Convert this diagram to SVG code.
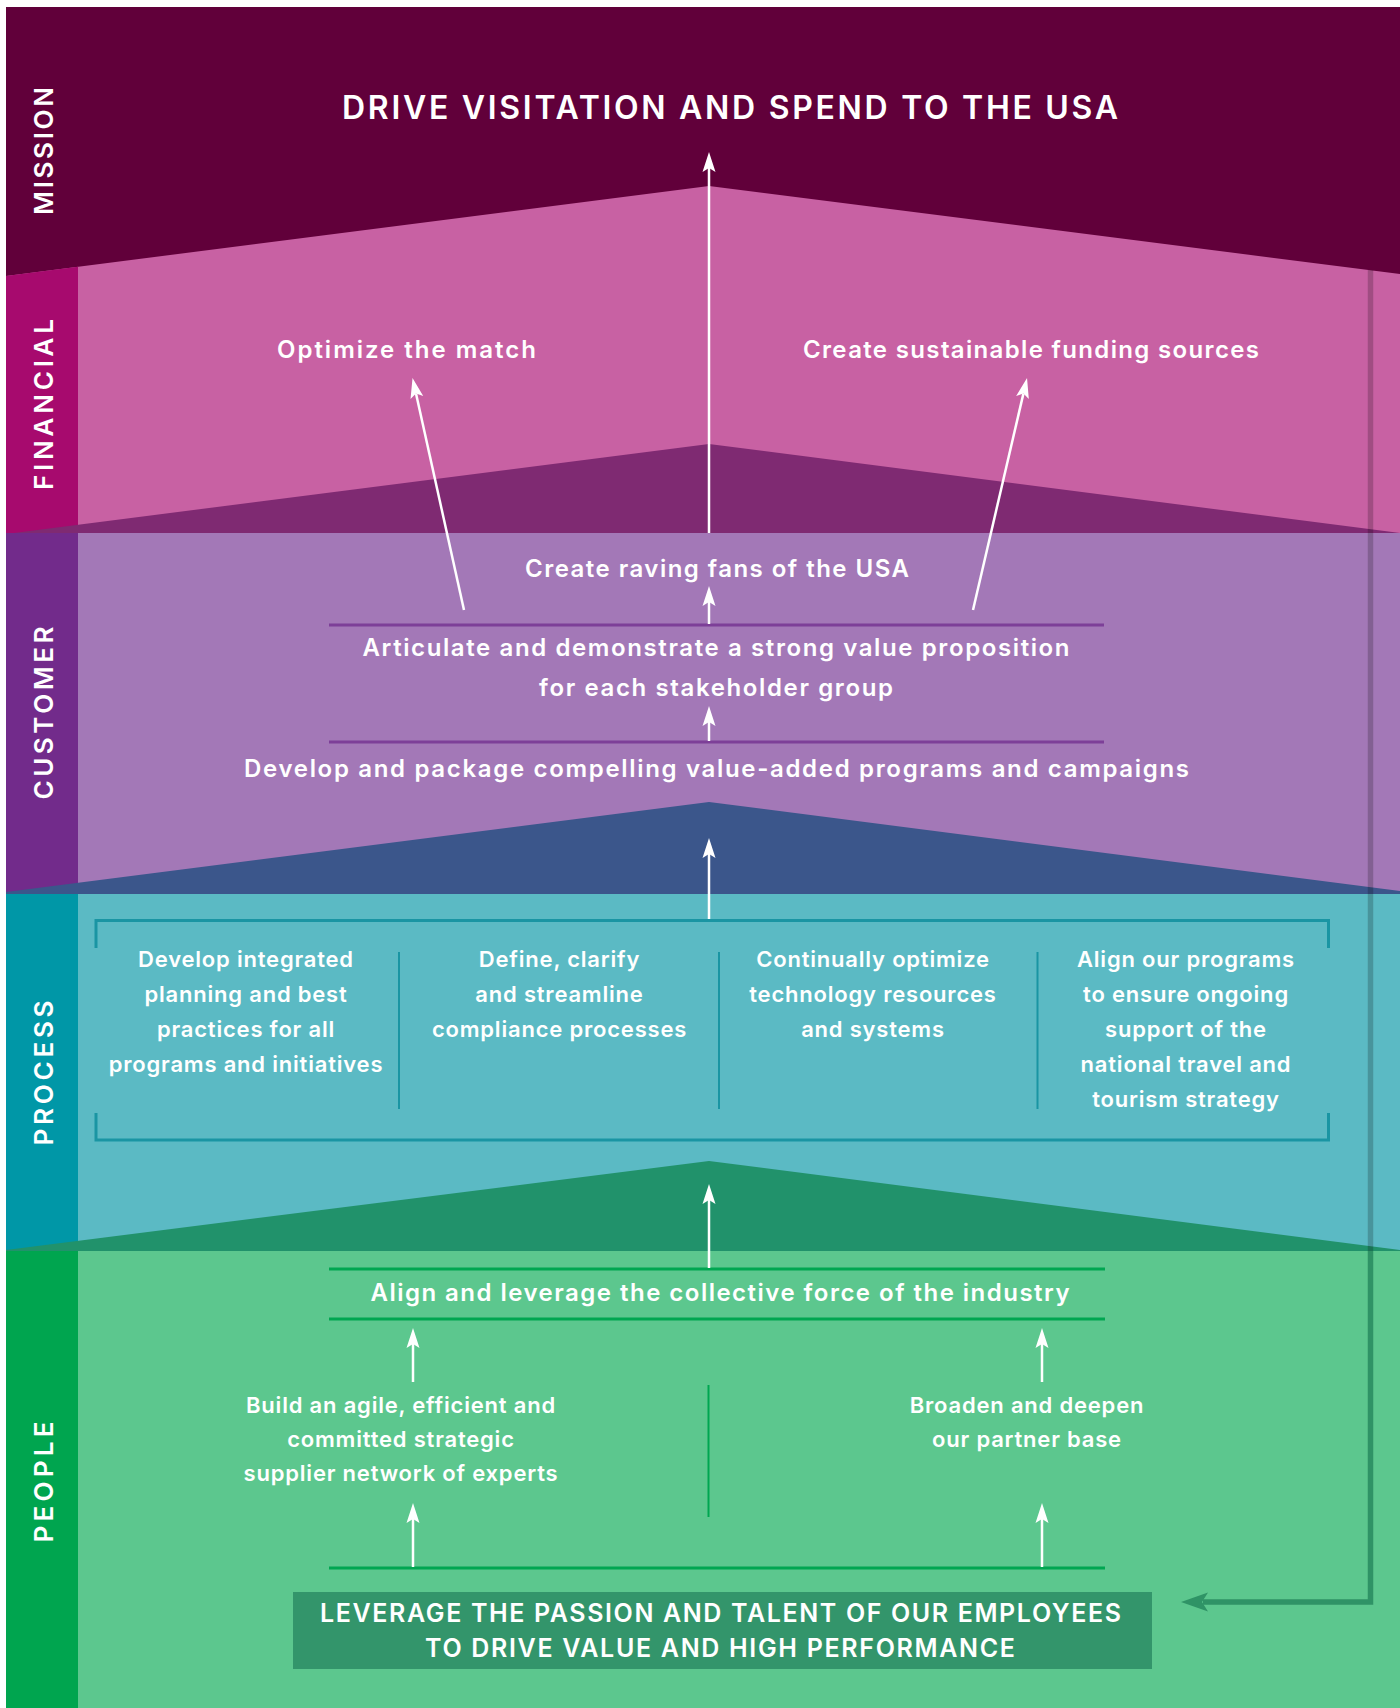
<svg xmlns="http://www.w3.org/2000/svg" width="1400" height="1708" viewBox="0 0 1400 1708">
<style>
  text { font-family: Inter, "Liberation Sans", "DejaVu Sans", sans-serif; fill: #ffffff; }
  .lbl { font-size: 26px; font-weight: 600; text-anchor: middle; }
  .t { font-weight: 600; text-anchor: middle; }
  .sm { font-size: 22px; letter-spacing: 0.8px; }
  .arrow { stroke: #ffffff; stroke-width: 2.5; fill: none; marker-end: url(#ah); }
  .purple { stroke: #7d3f98; stroke-width: 3; }
  .green { stroke: #00a651; stroke-width: 3; }
  .teal { stroke: #1a95a3; stroke-width: 3; fill: none; }
</style>
<defs>
  <marker id="ah" markerUnits="userSpaceOnUse" viewBox="-5 -8 23 16" markerWidth="23" markerHeight="16" refX="0" refY="0" orient="auto">
    <path d="M16,0 L-4,-6.5 L0,0 L-4,6.5 Z" fill="#ffffff"/>
  </marker>
</defs>
<rect width="1400" height="1708" fill="#ffffff"/>

<g id="band-mission">
  <rect x="6" y="7" width="1394" height="400" fill="#61003a"/>
</g>
<g id="band-financial">
  <polygon points="6,276 709,186 1400,274 1400,533 6,533" fill="#c861a3"/>
  <polygon points="6,276 78,266.8 78,533 6,533" fill="#a70a6e"/>
</g>
<g id="band-customer">
  <polygon points="6,534 709,444 1400,533 1400,900 6,900" fill="#7f2a72"/>
  <rect x="6" y="533" width="1394" height="362" fill="#a378b7"/>
  <rect x="6" y="533" width="72" height="362" fill="#722b8b"/>
</g>
<g id="band-process">
  <polygon points="6,892 709,802 1400,891 1400,1260 6,1260" fill="#3b568b"/>
  <rect x="6" y="894" width="1394" height="358" fill="#5bbac4"/>
  <rect x="6" y="894" width="72" height="358" fill="#0097a7"/>
</g>
<g id="band-people">
  <polygon points="6,1250 709,1161 1400,1250 1400,1708 6,1708" fill="#21926b"/>
  <rect x="6" y="1251" width="1394" height="457" fill="#5cc78e"/>
  <rect x="6" y="1251" width="72" height="457" fill="#00a54f"/>
</g>

<g id="labels">
  <text class="lbl" transform="translate(53,151) rotate(-90)" textLength="128">MISSION</text>
  <text class="lbl" transform="translate(53,404.5) rotate(-90)" textLength="171">FINANCIAL</text>
  <text class="lbl" transform="translate(53,713) rotate(-90)" textLength="173">CUSTOMER</text>
  <text class="lbl" transform="translate(53,1073) rotate(-90)" textLength="145">PROCESS</text>
  <text class="lbl" transform="translate(53,1482) rotate(-90)" textLength="121">PEOPLE</text>
</g>

<g id="mission-title">
  <text class="t" x="730" y="118.5" font-size="32" textLength="776">DRIVE VISITATION AND SPEND TO THE USA</text>
</g>
<g id="fin-optimize">
  <text class="t" x="406.5" y="358" font-size="24" textLength="259">Optimize the match</text>
</g>
<g id="fin-funding">
  <text class="t" x="1031" y="358" font-size="24" textLength="456">Create sustainable funding sources</text>
</g>
<g id="cust-fans">
  <text class="t" x="717" y="577" font-size="24" textLength="384">Create raving fans of the USA</text>
</g>
<g id="cust-value">
  <text class="t" x="716" y="656" font-size="24" textLength="707">Articulate and demonstrate a strong value proposition</text>
  <text class="t" x="716" y="696" font-size="24" textLength="354">for each stakeholder group</text>
</g>
<g id="cust-develop">
  <text class="t" x="716.5" y="777" font-size="24" textLength="945">Develop and package compelling value-added programs and campaigns</text>
</g>
<g id="proc-1">
  <text class="t sm" x="246" y="967">Develop integrated</text>
  <text class="t sm" x="246" y="1002">planning and best</text>
  <text class="t sm" x="246" y="1037">practices for all</text>
  <text class="t sm" x="246" y="1072">programs and initiatives</text>
</g>
<g id="proc-2">
  <text class="t sm" x="559.5" y="967">Define, clarify</text>
  <text class="t sm" x="559.5" y="1002">and streamline</text>
  <text class="t sm" x="559.5" y="1037">compliance processes</text>
</g>
<g id="proc-3">
  <text class="t sm" x="873" y="967">Continually optimize</text>
  <text class="t sm" x="873" y="1002">technology resources</text>
  <text class="t sm" x="873" y="1037">and systems</text>
</g>
<g id="proc-4">
  <text class="t sm" x="1186" y="967">Align our programs</text>
  <text class="t sm" x="1186" y="1002">to ensure ongoing</text>
  <text class="t sm" x="1186" y="1037">support of the</text>
  <text class="t sm" x="1186" y="1072">national travel and</text>
  <text class="t sm" x="1186" y="1106.5">tourism strategy</text>
</g>
<g id="people-align">
  <text class="t" x="720" y="1300.5" font-size="24" textLength="699">Align and leverage the collective force of the industry</text>
</g>
<g id="people-build">
  <text class="t sm" x="401" y="1412.5">Build an agile, efficient and</text>
  <text class="t sm" x="401" y="1446.5">committed strategic</text>
  <text class="t sm" x="401" y="1480.5">supplier network of experts</text>
</g>
<g id="people-broaden">
  <text class="t sm" x="1027" y="1412.5">Broaden and deepen</text>
  <text class="t sm" x="1027" y="1446.5">our partner base</text>
</g>
<g id="people-leverage">
  <rect x="293" y="1592" width="859" height="77" fill="#33956b"/>
  <text class="t" x="720.5" y="1621.5" font-size="25" textLength="801">LEVERAGE THE PASSION AND TALENT OF OUR EMPLOYEES</text>
  <text class="t" x="720" y="1656.5" font-size="25" textLength="590">TO DRIVE VALUE AND HIGH PERFORMANCE</text>
</g>

<g id="dividers">
  <line class="purple" x1="329" y1="625" x2="1104" y2="625"/>
  <line class="purple" x1="329" y1="742" x2="1104" y2="742"/>
  <path class="teal" d="M96,948 V920.5 H1328.5 V948"/>
  <path class="teal" d="M96,1113 V1140 H1328.5 V1113"/>
  <g stroke="#1a95a3" stroke-width="2">
    <line x1="399" y1="952" x2="399" y2="1109"/>
    <line x1="719" y1="952" x2="719" y2="1109"/>
    <line x1="1037.5" y1="952" x2="1037.5" y2="1109"/>
  </g>
  <line class="green" x1="329" y1="1269" x2="1105" y2="1269"/>
  <line class="green" x1="329" y1="1319" x2="1105" y2="1319"/>
  <line class="green" x1="329" y1="1568" x2="1105" y2="1568"/>
  <line stroke="#00a651" stroke-width="2" x1="708.5" y1="1385" x2="708.5" y2="1517"/>
</g>

<g id="connectors">
  <line class="arrow" x1="709" y1="533" x2="709" y2="168"/>
  <line class="arrow" x1="464" y1="610" x2="416" y2="393.6"/>
  <line class="arrow" x1="973" y1="610" x2="1023.4" y2="393.6"/>
  <line class="arrow" x1="709" y1="624" x2="709" y2="602"/>
  <line class="arrow" x1="709" y1="741" x2="709" y2="722"/>
  <line class="arrow" x1="709" y1="919" x2="709" y2="854"/>
  <line class="arrow" x1="709" y1="1268" x2="709" y2="1200"/>
  <line class="arrow" x1="413" y1="1382" x2="413" y2="1344"/>
  <line class="arrow" x1="1042" y1="1382" x2="1042" y2="1344"/>
  <line class="arrow" x1="413" y1="1567" x2="413" y2="1519"/>
  <line class="arrow" x1="1042" y1="1567" x2="1042" y2="1519"/>
  <line x1="1370.5" y1="270" x2="1370.5" y2="1251" stroke="#000000" stroke-opacity="0.2" stroke-width="5.5"/>
  <path d="M1370.5,1251 V1602 H1203" fill="none" stroke="#2f9366" stroke-width="5.5"/>
  <polygon points="1181,1602 1208,1592.5 1202,1602 1208,1611.5" fill="#2f9366"/>
</g>
</svg>
